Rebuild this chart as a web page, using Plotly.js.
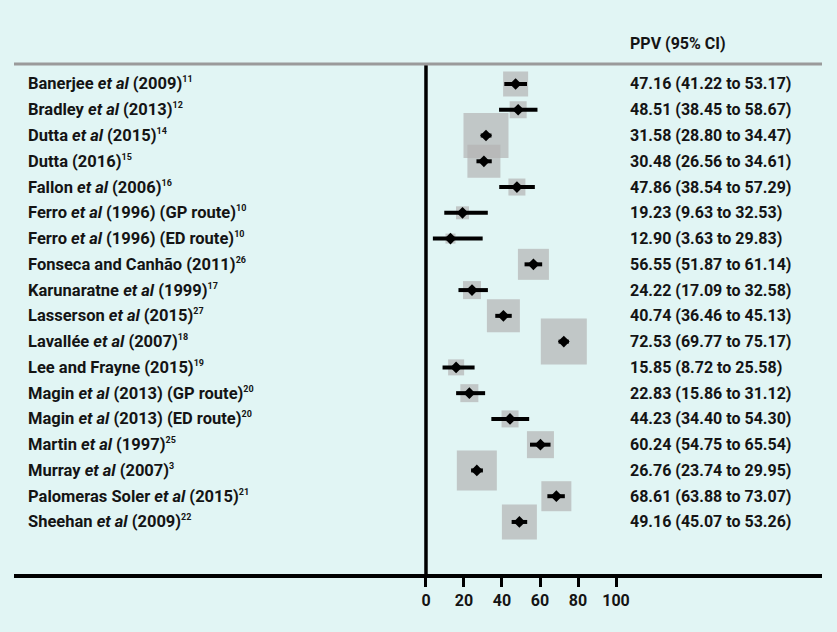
<!DOCTYPE html>
<html>
<head>
<meta charset="utf-8">
<script src="https://cdn.plot.ly/plotly-3.0.1.min.js"></script>
<style>html,body{margin:0;padding:0;background:#e1f5f4;}</style>
</head>
<body>
<div id="chart" style="width:837px;height:632px;"></div>
<script>
// ---- data ----
const studies = [
  "Banerjee <i>et al</i> (2009)",
  "Bradley <i>et al</i> (2013)",
  "Dutta <i>et al</i> (2015)",
  "Dutta (2016)",
  "Fallon <i>et al</i> (2006)",
  "Ferro <i>et al</i> (1996) (GP route)",
  "Ferro <i>et al</i> (1996) (ED route)",
  "Fonseca and Canhão (2011)",
  "Karunaratne <i>et al</i> (1999)",
  "Lasserson <i>et al</i> (2015)",
  "Lavallée <i>et al</i> (2007)",
  "Lee and Frayne (2015)",
  "Magin <i>et al</i> (2013) (GP route)",
  "Magin <i>et al</i> (2013) (ED route)",
  "Martin <i>et al</i> (1997)",
  "Murray <i>et al</i> (2007)",
  "Palomeras Soler <i>et al</i> (2015)",
  "Sheehan <i>et al</i> (2009)"
];
const refs  = ["11", "12", "14", "15", "16", "10", "10", "26", "17", "27", "18", "19", "20", "20", "25", "3", "21", "22"];
const ppv   = [47.16, 48.51, 31.58, 30.48, 47.86, 19.23, 12.90, 56.55, 24.22, 40.74, 72.53, 15.85, 22.83, 44.23, 60.24, 26.76, 68.61, 49.16];
const lower = [41.22, 38.45, 28.80, 26.56, 38.54,  9.63,  3.63, 51.87, 17.09, 36.46, 69.77,  8.72, 15.86, 34.40, 54.75, 23.74, 63.88, 45.07];
const upper = [53.17, 58.67, 34.47, 34.61, 57.29, 32.53, 29.83, 61.14, 32.58, 45.13, 75.17, 25.58, 31.12, 54.30, 65.54, 29.95, 73.07, 53.26];
// relative study weight (box side, arbitrary units)
const weight = [25, 17, 45, 33, 17, 13, 10, 31, 18, 33, 46, 16, 18, 17, 27, 40, 30, 35];
const tickVals = [0, 20, 40, 60, 80, 100];
const header = "PPV (95% CI)";

// ---- chart ----
const rows = studies.map((_, i) => i);
const boldFont = {family: "Roboto, 'Open Sans', sans-serif", size: 16, color: "#141414", weight: 700};
const nameFont = {family: "Roboto, 'Open Sans', sans-serif", size: 16.5, color: "#141414", weight: 700};

const boxes = {
  type: "scatter", mode: "markers", x: ppv, y: rows,
  marker: {symbol: "square", size: weight.map(w => w * 1.0), color: "#b4b4b4", line: {width: 0}},
  hoverinfo: "skip", showlegend: false
};
const points = {
  type: "scatter", mode: "markers", x: ppv, y: rows,
  marker: {symbol: "diamond", size: 9, color: "#000"},
  error_x: {type: "data", symmetric: false,
            array: upper.map((u, i) => u - ppv[i]),
            arrayminus: lower.map((l, i) => ppv[i] - l),
            thickness: 4, width: 0, color: "#000"},
  showlegend: false
};

const annotations = [];
studies.forEach((s, i) => {
  annotations.push({xref: "paper", yref: "y", x: 0.0149, y: i, xanchor: "left", yanchor: "middle",
    text: s + "<sup><span style=\"font-size:9px\">" + refs[i] + "</span></sup>", showarrow: false, font: nameFont});
  annotations.push({xref: "paper", yref: "y", x: 0.7599, y: i, xanchor: "left", yanchor: "middle",
    text: ppv[i].toFixed(2) + " (" + lower[i].toFixed(2) + " to " + upper[i].toFixed(2) + ")",
    showarrow: false, font: boldFont});
});
annotations.push({xref: "paper", yref: "paper", x: 0.7599, y: 1.041, xanchor: "left", yanchor: "middle",
  text: header, showarrow: false, font: boldFont});

const layout = {
  width: 837, height: 632,
  margin: {l: 14, r: 15, t: 64, b: 58},
  paper_bgcolor: "#e1f5f4", plot_bgcolor: "#e1f5f4",
  showlegend: false,
  xaxis: {
    range: [-216.8, 208.4], tickvals: tickVals, ticktext: tickVals.map(String),
    showgrid: false, zeroline: false, showline: true, linecolor: "#000", linewidth: 4,
    ticks: "outside", ticklen: 9, tickwidth: 3, tickcolor: "#000",
    tickfont: {family: "Roboto, sans-serif", size: 16, color: "#141414", weight: 700},
    fixedrange: true
  },
  yaxis: {
    range: [19.02, -0.776], showgrid: false, zeroline: false, showline: false,
    showticklabels: false, ticks: "", fixedrange: true
  },
  shapes: [
    {type: "line", xref: "x", yref: "paper", x0: 0, x1: 0, y0: 0, y1: 1, line: {color: "#000", width: 3.5}},
    {type: "line", xref: "paper", yref: "paper", x0: 0, x1: 1, y0: 1, y1: 1, line: {color: "#9a9a9a", width: 3}}
  ],
  annotations: annotations
};

Plotly.newPlot("chart", [boxes, points], layout, {displayModeBar: false, staticPlot: true});
</script>
</body>
</html>
